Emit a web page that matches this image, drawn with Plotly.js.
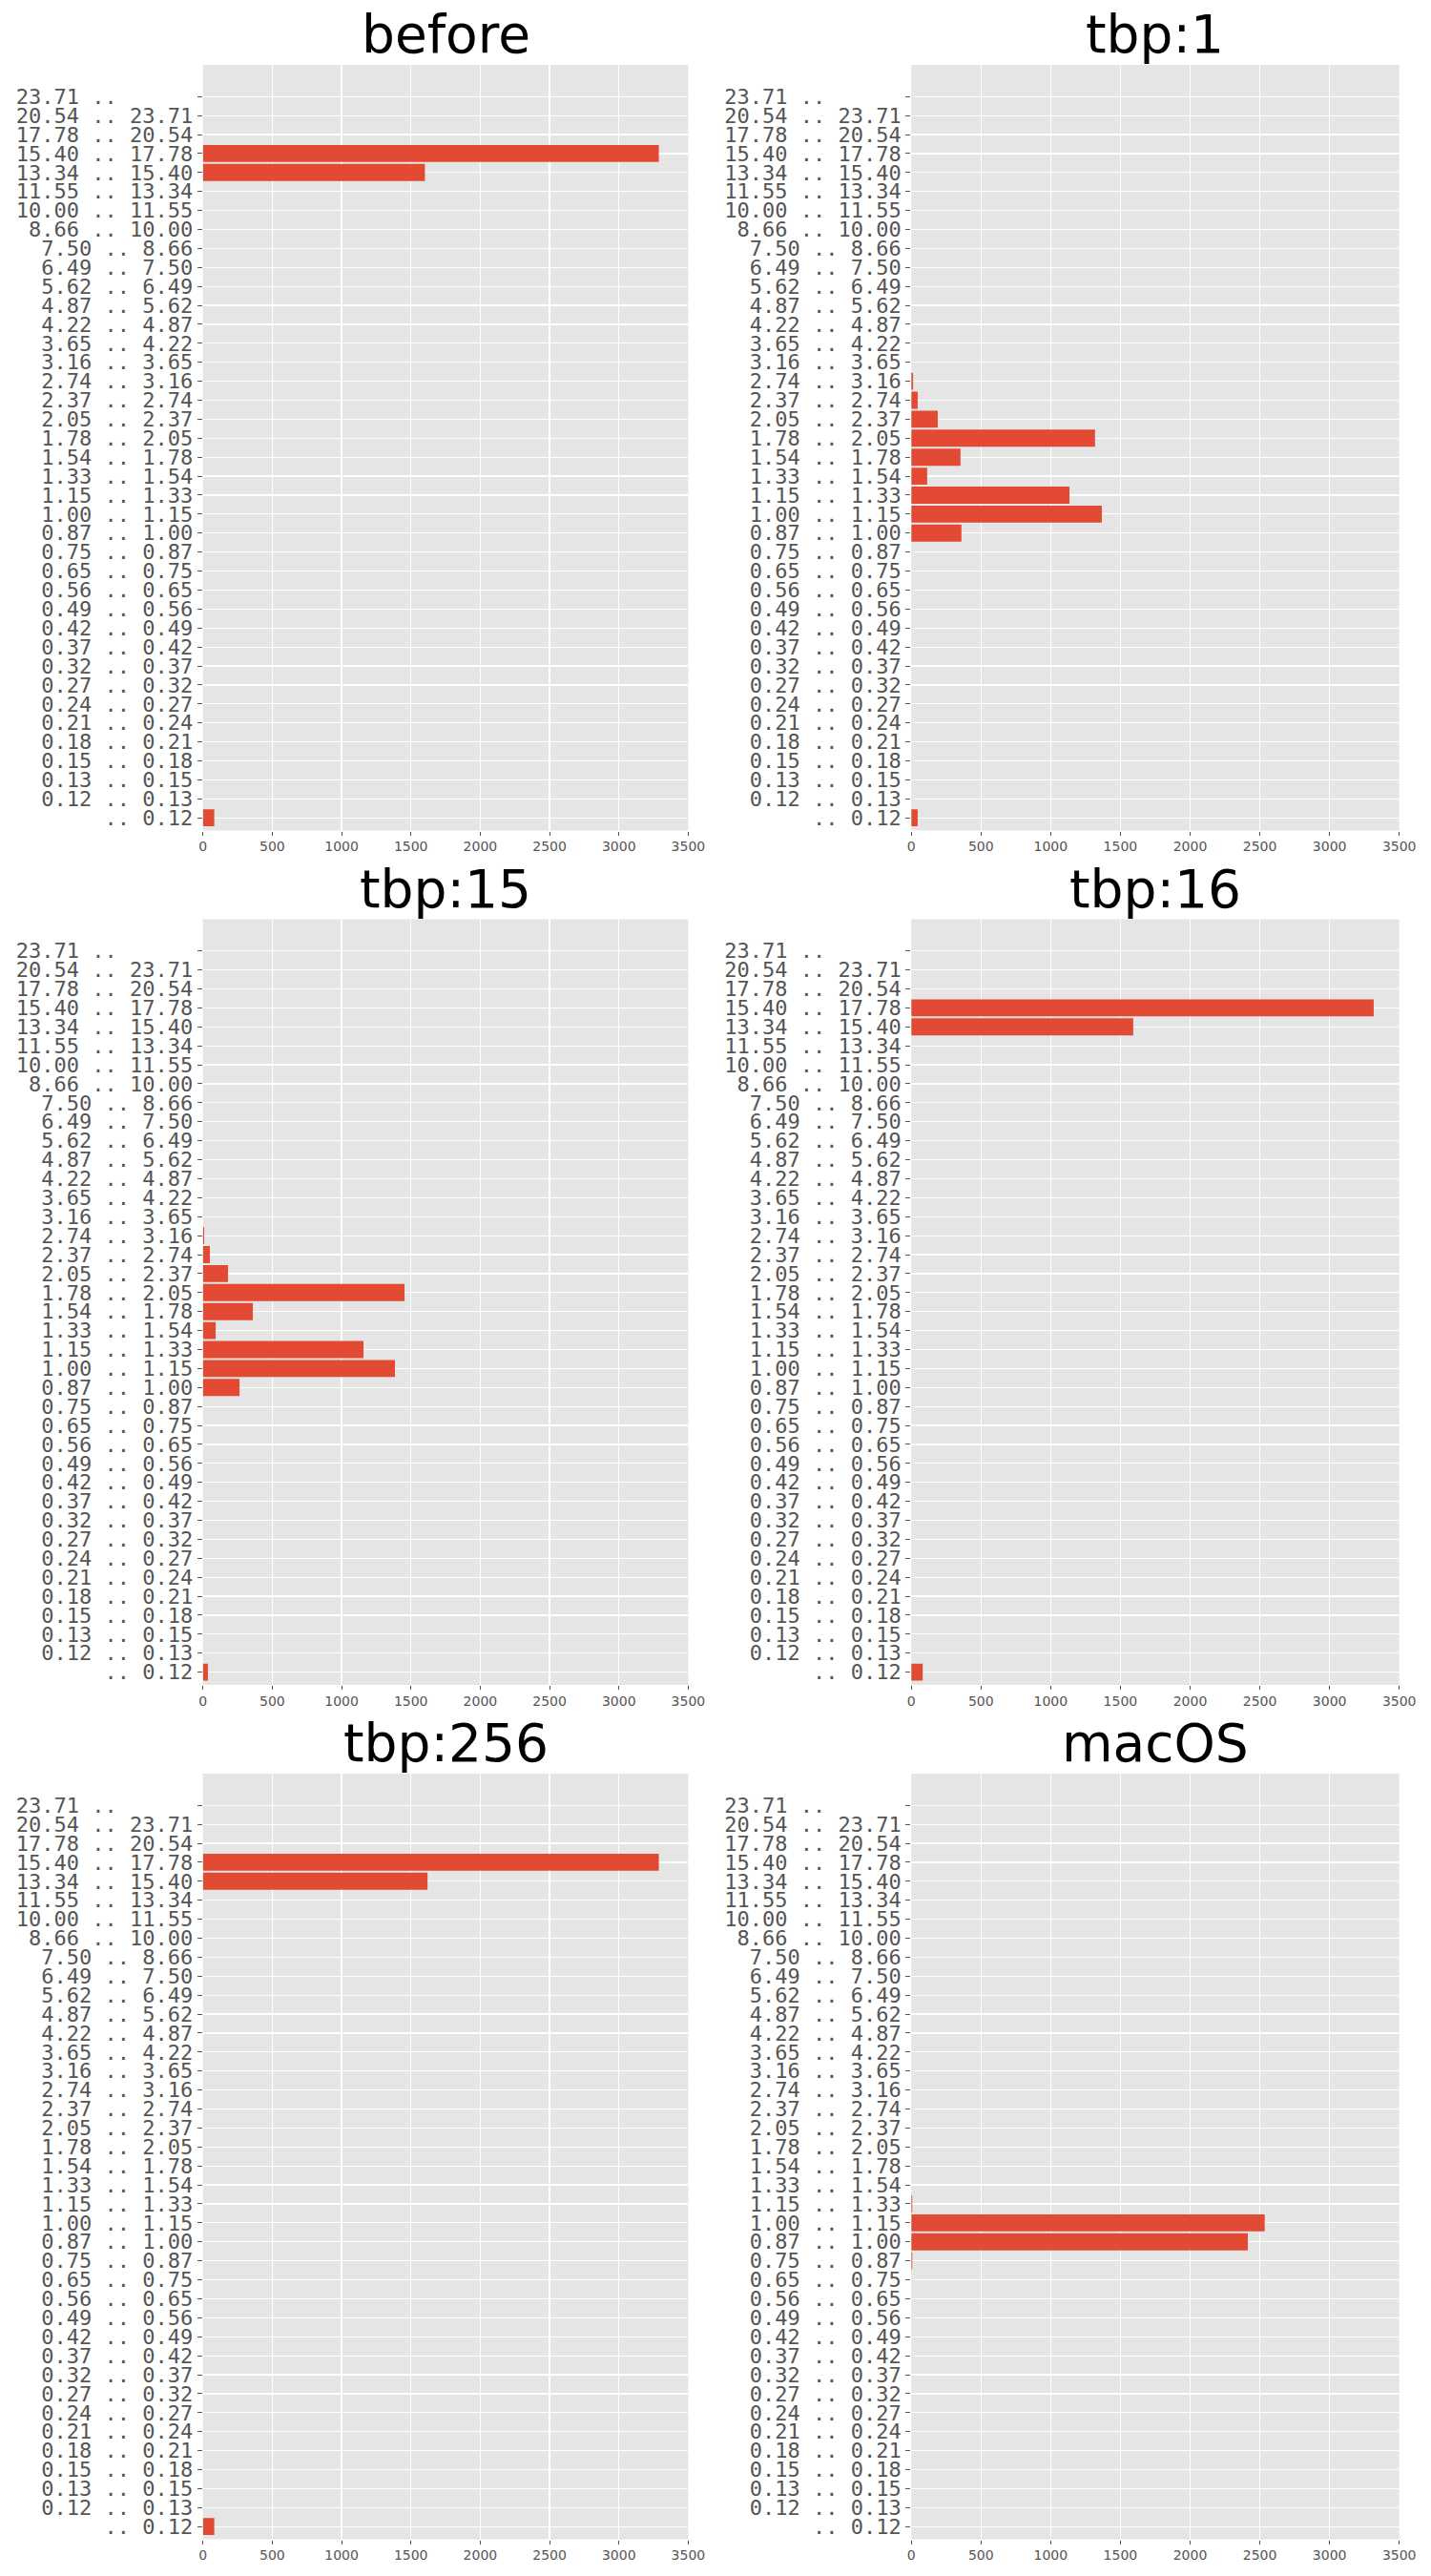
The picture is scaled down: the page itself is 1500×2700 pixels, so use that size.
<!DOCTYPE html>
<html>
<head>
<meta charset="utf-8">
<script src="https://cdn.plot.ly/plotly-3.0.1.min.js"></script>
<style>
  html, body { margin: 0; padding: 0; background: #ffffff; }
  #chart { width: 1500px; height: 2700px; }
</style>
</head>
<body>
<div id="chart"></div>
<script>
// Bin labels, listed top to bottom as in the picture
const binLabels = [
  "23.71 ..\u00a0\u00a0\u00a0\u00a0\u00a0\u00a0",
  "20.54 .. 23.71", "17.78 .. 20.54", "15.40 .. 17.78", "13.34 .. 15.40",
  "11.55 .. 13.34", "10.00 .. 11.55", "8.66 .. 10.00", "7.50 .. 8.66",
  "6.49 .. 7.50", "5.62 .. 6.49", "4.87 .. 5.62", "4.22 .. 4.87",
  "3.65 .. 4.22", "3.16 .. 3.65", "2.74 .. 3.16", "2.37 .. 2.74",
  "2.05 .. 2.37", "1.78 .. 2.05", "1.54 .. 1.78", "1.33 .. 1.54",
  "1.15 .. 1.33", "1.00 .. 1.15", "0.87 .. 1.00", "0.75 .. 0.87",
  "0.65 .. 0.75", "0.56 .. 0.65", "0.49 .. 0.56", "0.42 .. 0.49",
  "0.37 .. 0.42", "0.32 .. 0.37", "0.27 .. 0.32", "0.24 .. 0.27",
  "0.21 .. 0.24", "0.18 .. 0.21", "0.15 .. 0.18", "0.13 .. 0.15",
  "0.12 .. 0.13", ".. 0.12"
];

// Counts per bin (same order as binLabels, top to bottom)
const before = [0,0,0,3288,1601,0,0,0,0,0,
                0,0,0,0,0,0,0,0,0,0,
                0,0,0,0,0,0,0,0,0,0,
                0,0,0,0,0,0,0,0,82];
const tbp1   = [0,0,0,0,0,0,0,0,0,0,
                0,0,0,0,0,13,46,190,1318,353,
                114,1135,1367,360,0,0,0,0,0,0,
                0,0,0,0,0,0,0,0,46];
const tbp15  = [0,0,0,0,0,0,0,0,0,0,
                0,0,0,0,0,9,50,181,1454,360,
                92,1158,1385,264,0,0,0,0,0,0,
                0,0,0,0,0,0,0,0,36];
const tbp16  = [0,0,0,3317,1592,0,0,0,0,0,
                0,0,0,0,0,0,0,0,0,0,
                0,0,0,0,0,0,0,0,0,0,
                0,0,0,0,0,0,0,0,82];
const tbp256 = [0,0,0,3288,1620,0,0,0,0,0,
                0,0,0,0,0,0,0,0,0,0,
                0,0,0,0,0,0,0,0,0,0,
                0,0,0,0,0,0,0,0,82];
const macOS  = [0,0,0,0,0,0,0,0,0,0,
                0,0,0,0,0,0,0,0,0,0,
                0,7,2535,2414,7,0,0,0,0,0,
                0,0,0,0,0,0,0,0,0];

const panelTitles = ["before", "tbp:1", "tbp:15", "tbp:16", "tbp:256", "macOS"];
const panelValues = [before, tbp1, tbp15, tbp16, tbp256, macOS];
const xTickVals = [0, 500, 1000, 1500, 2000, 2500, 3000, 3500];

// Layout geometry (pixels in a 1500x2700 page)
const W = 1500, H = 2700;
const colX = [[212.7, 721.4], [955.2, 1466.7]];
const rowY = [[68, 870.5], [963.5, 1766], [1859, 2661.5]];

const BAR = '#E24A33', BG = '#E5E5E5', TXT = '#555555';

const data = [];
const layout = {
  width: W, height: H,
  margin: {l: 0, r: 0, t: 0, b: 0},
  paper_bgcolor: '#ffffff',
  plot_bgcolor: BG,
  showlegend: false,
  bargap: 0.1,
  annotations: []
};

const catOrder = binLabels.slice().reverse();

for (let i = 0; i < 6; i++) {
  const row = Math.floor(i / 2), col = i % 2;
  const n = i + 1;
  const xa = 'x' + (n === 1 ? '' : n), ya = 'y' + (n === 1 ? '' : n);
  data.push({
    type: 'bar', orientation: 'h',
    x: panelValues[i], y: binLabels,
    xaxis: xa, yaxis: ya,
    marker: {color: BAR, line: {width: 0}},
    hoverinfo: 'x+y'
  });
  const xd = [colX[col][0] / W, colX[col][1] / W];
  const yd = [1 - rowY[row][1] / H, 1 - rowY[row][0] / H];
  layout['xaxis' + (n === 1 ? '' : n)] = {
    domain: xd, anchor: ya, range: [0, 3500],
    tickmode: 'array', tickvals: xTickVals,
    showgrid: true, gridcolor: '#ffffff', gridwidth: 1.2,
    zeroline: false, showline: false,
    ticks: 'outside', ticklen: 4, tickwidth: 1, tickcolor: TXT,
    tickfont: {family: 'DejaVu Sans', size: 14, color: TXT}
  };
  layout['yaxis' + (n === 1 ? '' : n)] = {
    domain: yd, anchor: xa, type: 'category',
    categoryorder: 'array', categoryarray: catOrder,
    tickmode: 'array', tickvals: catOrder, ticktext: catOrder,
    range: [-0.67, 39.67],
    showgrid: true, gridcolor: '#ffffff', gridwidth: 1.2,
    zeroline: false, showline: false,
    ticks: 'outside', ticklen: 5, tickwidth: 1, tickcolor: TXT,
    tickfont: {family: 'DejaVu Sans Mono', size: 22, color: TXT}
  };
  layout.annotations.push({
    text: panelTitles[i],
    xref: 'paper', yref: 'paper',
    x: (xd[0] + xd[1]) / 2, y: yd[1],
    xanchor: 'center', yanchor: 'bottom', yshift: -2,
    showarrow: false,
    font: {family: 'DejaVu Sans', size: 55, color: '#000000'}
  });
}

Plotly.newPlot('chart', data, layout, {displayModeBar: false, staticPlot: true});
</script>
</body>
</html>
